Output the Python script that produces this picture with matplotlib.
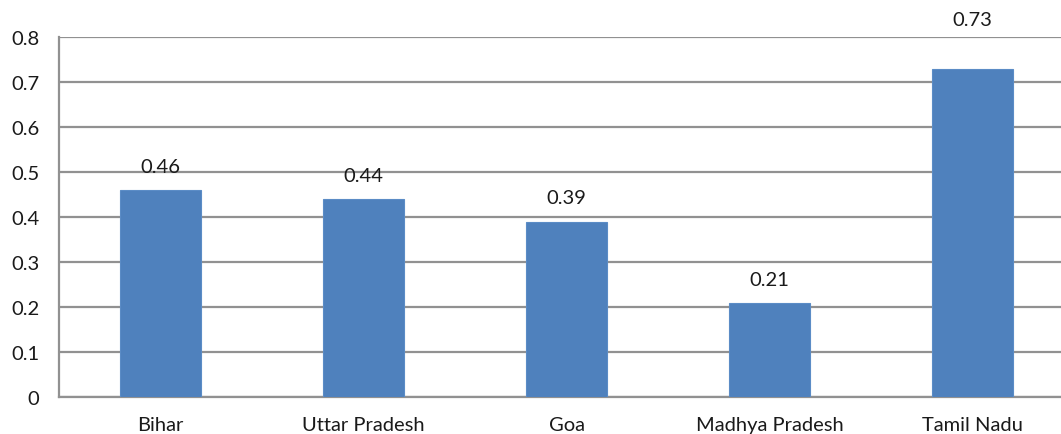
import matplotlib
matplotlib.use("Agg")
import matplotlib.pyplot as plt

states = ["Bihar", "Uttar Pradesh", "Goa", "Madhya Pradesh", "Tamil Nadu"]
values = [0.46, 0.44, 0.39, 0.21, 0.73]
y_ticks = [0, 0.1, 0.2, 0.3, 0.4, 0.5, 0.6, 0.7, 0.8]
y_tick_labels = ["0", "0.1", "0.2", "0.3", "0.4", "0.5", "0.6", "0.7", "0.8"]

plt.rcParams["font.family"] = ["Lato", "DejaVu Sans"]

W, H = 1061, 435
fig = plt.figure(figsize=(W / 100, H / 100), dpi=100)
left, right, top, bottom = 59, 1074, 38, 398
ax = fig.add_axes([left / W, 1 - bottom / H, (right - left) / W, (bottom - top) / H])

grid_color = "#919191"
x = range(len(states))
bars = ax.bar(x, values, width=0.395, color="#4f81bd", edgecolor="#5b8cc6",
              linewidth=0.8, zorder=3)

ax.set_xlim(-0.5, len(states) - 0.5)
ax.set_ylim(0, 0.8)
ax.set_yticks(y_ticks)
ax.set_yticklabels(y_tick_labels)
ax.set_xticks(list(x))
ax.set_xticklabels(states)

ax.yaxis.grid(True, color=grid_color, linewidth=1.6, zorder=0)
ax.set_axisbelow(True)
for side in ("top", "right"):
    ax.spines[side].set_visible(False)
for side in ("left", "bottom"):
    ax.spines[side].set_color(grid_color)
    ax.spines[side].set_linewidth(1.6)

ax.tick_params(axis="y", length=0, pad=14, labelsize=14.5, labelcolor="#1a1a1a")
ax.tick_params(axis="x", length=0, pad=14, labelsize=14.5, labelcolor="#1a1a1a")
for lbl in ax.get_yticklabels():
    lbl.set_horizontalalignment("right")

# value labels above each bar; the tallest one sits higher, above the top gridline
for b, v in zip(bars, values):
    off = 40 if v == max(values) else 15
    ax.annotate(f"{v:.2f}", (b.get_x() + b.get_width() / 2, v),
                xytext=(0, off * 0.72), textcoords="offset points",
                ha="center", va="bottom", fontsize=14.5, color="#1a1a1a",
                annotation_clip=False)

fig.savefig("out.png", dpi=100)
